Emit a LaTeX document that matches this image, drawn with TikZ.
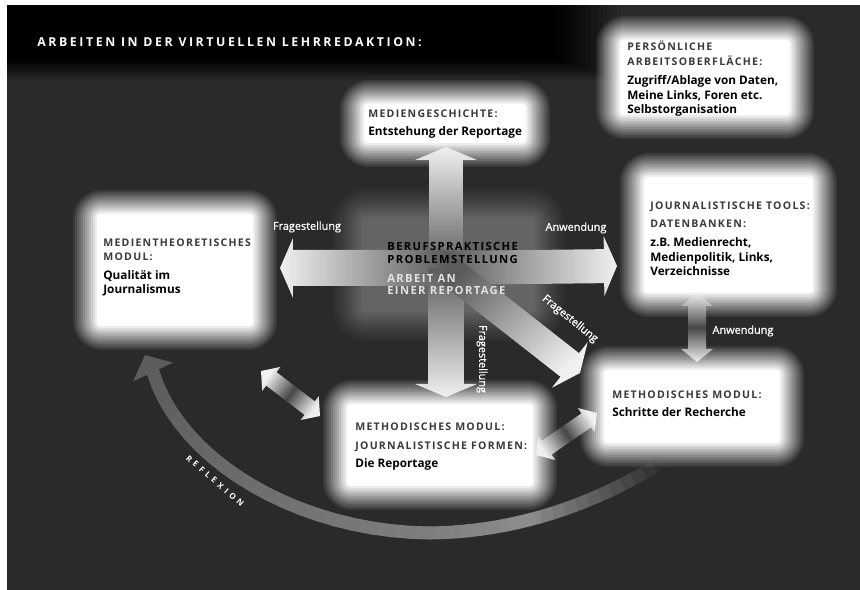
\documentclass[tikz,border=0pt]{standalone}
\usepackage{fontspec}
\setmainfont{Open Sans}
\newfontfamily\headfont[LetterSpace=12]{Open Sans}
\newfontfamily\titlefont[LetterSpace=21]{Open Sans}
\newfontfamily\reflexfont[LetterSpace=45]{Open Sans}
\newfontfamily\labelfont[FakeBold=1]{Open Sans}
\usetikzlibrary{calc}

\definecolor{bgdark}{RGB}{42,42,42}
\definecolor{headgray}{RGB}{58,58,58}
\definecolor{midgray}{RGB}{92,92,92}
\definecolor{centergray}{RGB}{100,100,100}
\definecolor{paleshaft}{RGB}{240,240,240}
\definecolor{darkshaft}{RGB}{70,70,70}
\definecolor{centerlight}{RGB}{225,225,225}

\tikzset{
  boxtext/.style={anchor=base west, align=left, inner sep=0pt, text=black,
    font=\bfseries\fontsize{6.7}{8.4}\selectfont},
  lbl/.style={text=white, inner sep=0pt, font=\labelfont\fontsize{6.2}{7}\selectfont},
}
\newcommand\hd[1]{{\color{headgray}\headfont\bfseries\fontsize{6}{8.4}\selectfont #1}}

% field with a soft edge: colour, core corners, steps (2px each)
\newcommand\glowbox[6][white]{%
  \foreach \k in {1,...,#6}{%
    \pgfmathsetmacro\gop{1/(#6-\k+1)}
    \pgfmathsetmacro\gex{2*(#6-\k)}
    \pgfmathsetmacro\grc{2+0.6*\gex}
    \fill[#1, opacity=\gop, rounded corners=\grc pt] ({#2-\gex},{#3-\gex}) rectangle ({#4+\gex},{#5+\gex});
  }
}

\newcommand\headlen{0.26cm}
% block arrow: shading, from, to, shaft half width, head half width
\newcommand\blockarrow[5]{%
  \coordinate (hb) at ($(#3)!\headlen!(#2)$);
  \shade[#1] ($(#2)!#4!90:(#3)$) -- ($(hb)!#4!-90:(#2)$) -- ($(hb)!#5!-90:(#2)$) -- (#3)
    -- ($(hb)!#5!90:(#2)$) -- ($(hb)!#4!90:(#2)$) -- ($(#2)!#4!-90:(#3)$) -- cycle;
}
% same with a head at both ends
\newcommand\dblarrow[5]{%
  \coordinate (ha) at ($(#2)!\headlen!(#3)$);
  \coordinate (hb) at ($(#3)!\headlen!(#2)$);
  \shade[#1] (#2) -- ($(ha)!#5!90:(#3)$) -- ($(ha)!#4!90:(#3)$) -- ($(hb)!#4!-90:(#2)$)
    -- ($(hb)!#5!-90:(#2)$) -- (#3) -- ($(hb)!#5!90:(#2)$) -- ($(hb)!#4!90:(#2)$)
    -- ($(ha)!#4!-90:(#3)$) -- ($(ha)!#5!-90:(#3)$) -- cycle;
}

\begin{document}
\begin{tikzpicture}[x=0.02cm, y=-0.02cm]
	%%%%% START %%%%%
	\useasboundingbox (0,0) rectangle (860,590);
	\fill[white] (0,0) rectangle (860,590);
	\fill[bgdark] (7,5) rectangle (860,590);
	
	% black band on top
	\foreach \k in {1,...,12}{
		\pgfmathsetmacro\bop{1/(13-\k)}
		\fill[black, opacity=\bop] (7,5) rectangle ({555+6*(12-\k)},{60+1.8*(12-\k)});
	}
	
	% the white fields
	\glowbox{620}{40}{790}{115}{13}
	\glowbox{364}{104}{526}{143}{13}
	\glowbox{97}{214}{253}{326}{13}
	\glowbox{644}{177}{813}{293}{13}
	\glowbox{604}{370}{780}{443}{13}
	\glowbox{347}{404}{533}{486}{13}
	
	% centre
	\glowbox[centergray]{362}{218}{535}{312}{16}
	
	\coordinate (hub) at (446,268);
	\coordinate (up tip) at (446,147);
	\coordinate (left tip) at (280,268);
	\coordinate (right tip) at (617,266);
	\coordinate (down tip) at (446,397);
	\coordinate (diag tip) at (580,373);
	
	\blockarrow{top color=paleshaft, bottom color=midgray}{hub}{up tip}{0.34cm}{0.62cm}
	\blockarrow{left color=paleshaft, right color=midgray}{hub}{left tip}{0.36cm}{0.6cm}
	\blockarrow{left color=midgray, right color=paleshaft}{hub}{right tip}{0.34cm}{0.6cm}
	\blockarrow{top color=midgray, bottom color=paleshaft}{hub}{down tip}{0.36cm}{0.62cm}
	\blockarrow{top color=midgray, bottom color=paleshaft, shading angle=45}{hub}{diag tip}{0.3cm}{0.58cm}
	
	\coordinate (tools end) at (697,293);
	\coordinate (recherche end) at (697,362);
	\coordinate (theorie end) at (261,371);
	\coordinate (formen end) at (320,416);
	\coordinate (formen end2) at (536,455);
	\coordinate (recherche end2) at (597,413);
	
	\dblarrow{top color=paleshaft, bottom color=paleshaft, middle color=darkshaft}{tools end}{recherche end}{0.18cm}{0.32cm}
	\dblarrow{top color=paleshaft, bottom color=paleshaft, middle color=darkshaft, shading angle=53}{theorie end}{formen end}{0.17cm}{0.3cm}
	\dblarrow{top color=paleshaft, bottom color=paleshaft, middle color=darkshaft, shading angle=124}{formen end2}{recherche end2}{0.17cm}{0.3cm}
	
	% reflexion
	\coordinate (rs) at (665,460);
	\coordinate (rm) at (430,533);
	\coordinate (re) at (153,372);
	\coordinate (reflex tip) at (145,355);
	\path (rs) .. controls (595,505) and (515,532) .. (rm)
		foreach \i in {0,...,20} {coordinate[pos=\i/20] (r\i)};
	\path (rm) .. controls (300,532) and (180,462) .. (re)
		foreach \i [evaluate=\i as \n using int(20+\i)] in {0,...,20} {coordinate[pos=\i/20] (r\n)};
	\foreach \i in {0,...,39}{
		\pgfmathtruncatemacro\j{\i+1}
		\pgfmathsetmacro\g{\i<12 ? 55 : 55-19*(\i-12)/28}
		\pgfmathsetmacro\o{\i<12 ? (\i+0.5)/12 : 1}
		\ifnum\i<12
			\draw[line width=7.4pt, color=white!\g!black, opacity=\o] (r\i) -- (r\j);
		\else
			\draw[line width=7.4pt, line cap=round, color=white!\g!black] (r\i) -- (r\j);
		\fi
	}
	\fill[white!36!black] (reflex tip) -- ($(r40)!0.44cm!90:(reflex tip)$) -- ($(r40)!0.44cm!-90:(reflex tip)$) -- cycle;
	
	% texts
	\node[anchor=base west, inner sep=0pt, text=white, font=\titlefont\bfseries\fontsize{7}{8}\selectfont] (title) at (37,47) {ARBEITEN IN DER VIRTUELLEN LEHRREDAKTION:};
	
	\node[boxtext] (persoenlich) at (627,114) {\hd{PERSÖNLICHE}\\\hd{ARBEITSOBERFLÄCHE:}\\[2.4pt]Zugriff/Ablage von Daten,\\Meine Links, Foren etc.\\Selbstorganisation};
	\node[boxtext] (mediengeschichte) at (368,136) {\hd{MEDIENGESCHICHTE:}\\[2.4pt]Entstehung der Reportage};
	\node[boxtext] (theorie) at (103,294) {\hd{MEDIENTHEORETISCHES}\\\hd{MODUL:}\\[2pt]Qualität im\\Journalismus};
	\node[boxtext] (tools) at (650,276) {\hd{JOURNALISTISCHE TOOLS:}\\[2pt]\hd{DATENBANKEN:}\\[2.4pt]z.B. Medienrecht,\\Medienpolitik, Links,\\Verzeichnisse};
	\node[boxtext] (recherche) at (612,417) {\hd{METHODISCHES MODUL:}\\[2pt]Schritte der Recherche};
	\node[boxtext] (formen) at (355,468) {\hd{METHODISCHES MODUL:}\\[2.4pt]\hd{JOURNALISTISCHE FORMEN:}\\[2pt]Die Reportage};
	
	\node[boxtext, font=\headfont\bfseries\fontsize{6.4}{7.2}\selectfont] (problem) at (387,295) {BERUFSPRAKTISCHE\\PROBLEMSTELLUNG\\[3.6pt]{\color{centerlight}ARBEIT AN}\\{\color{centerlight}EINER REPORTAGE}};
	
	\node[lbl] (frage left) at (307,227) {Fragestellung};
	\node[lbl] (anw right) at (576,228) {Anwendung};
	\node[lbl, rotate=-90] (frage down) at (482,359) {Fragestellung};
	\node[lbl, rotate=-39] (frage diag) at (570,319) {Fragestellung};
	\node[lbl] (anw tools) at (743,331) {Anwendung};
	
	\node[text=white, inner sep=0pt, font=\reflexfont\bfseries\fontsize{4.6}{6}\selectfont, rotate=-41] (reflexion) at (215,481) {REFLEXION};
	%%%%% END %%%%%
\end{tikzpicture}
\end{document}
